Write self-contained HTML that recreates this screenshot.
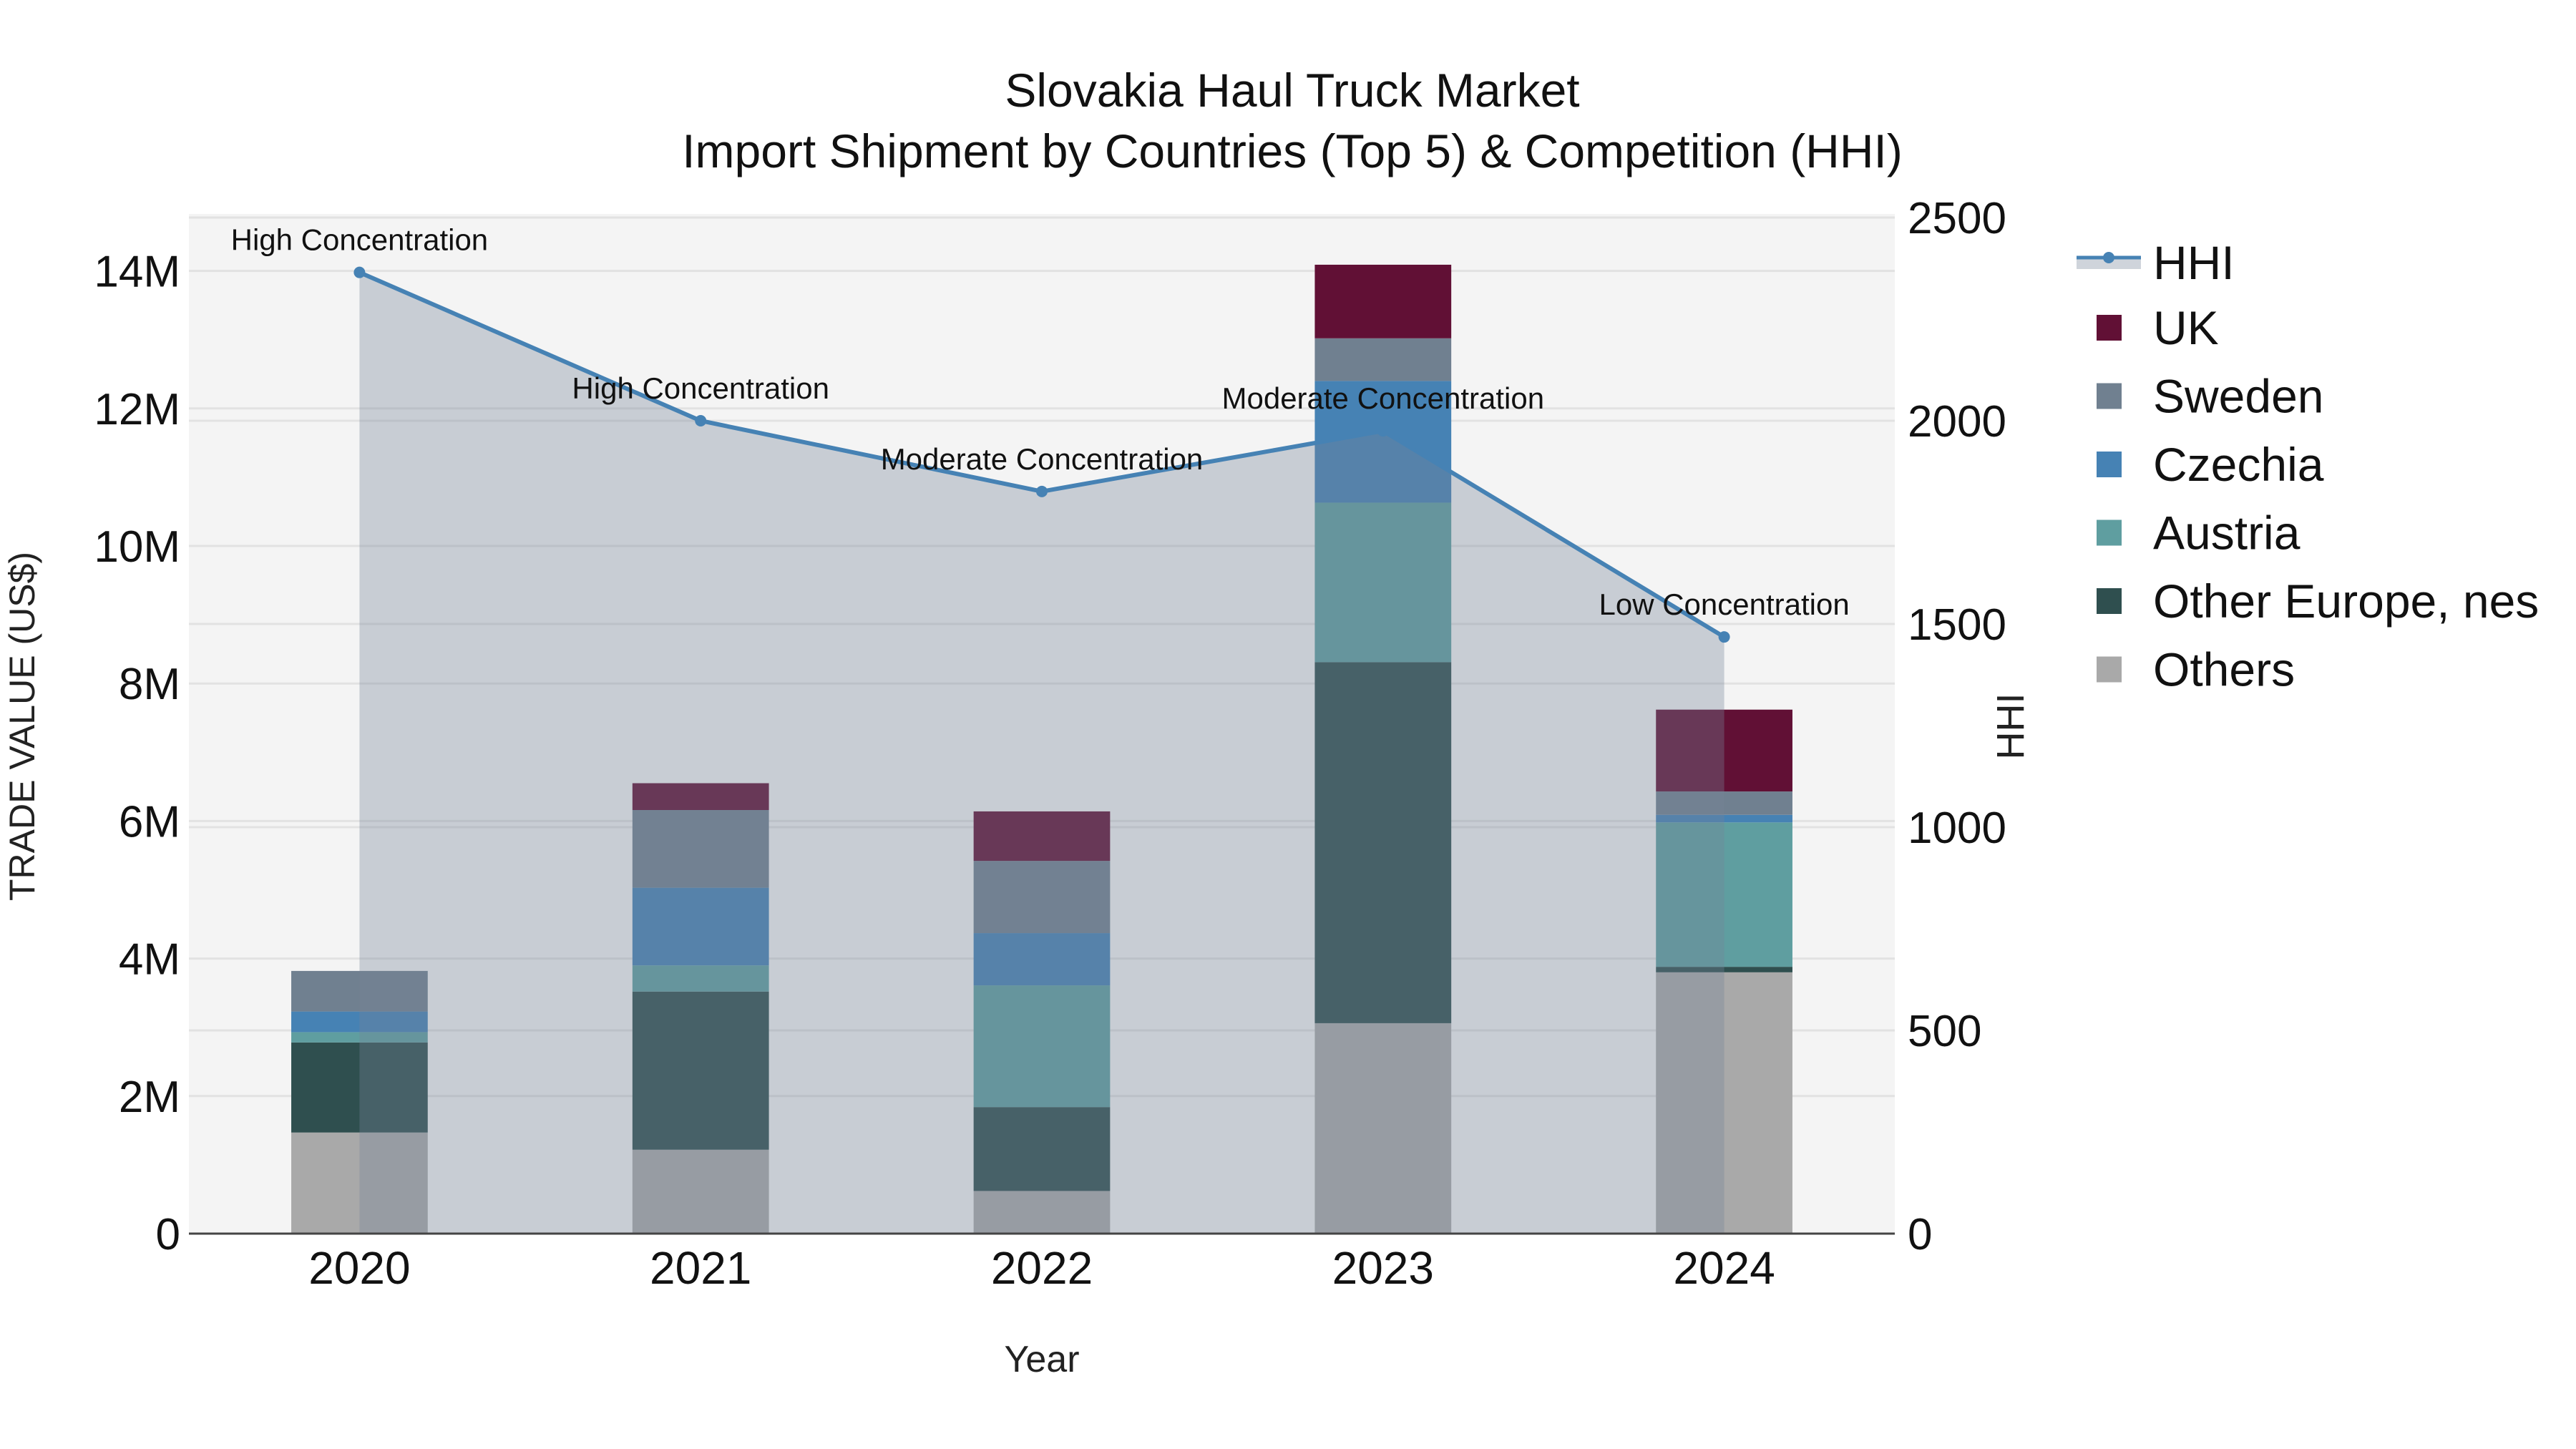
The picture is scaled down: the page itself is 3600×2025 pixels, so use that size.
<!DOCTYPE html>
<html><head><meta charset="utf-8"><style>
html,body{margin:0;padding:0;background:#fff;}
svg{display:block;font-family:"Liberation Sans",sans-serif;}
</style></head><body>
<svg id="chart" width="3600" height="2025" viewBox="0 0 3600 2025">
<text x="1806" y="149" font-size="66" text-anchor="middle" fill="#111">Slovakia Haul Truck Market</text>
<text x="1806" y="234" font-size="66" text-anchor="middle" fill="#111">Import Shipment by Countries (Top 5) &amp; Competition (HHI)</text>
<rect x="264" y="299" width="2384" height="1425" fill="#f4f4f4"/>
<g id="grid"></g>
<g id="bars"></g>
<g id="hhi"></g>
<line x1="264" y1="1724" x2="2648" y2="1724" stroke="#444" stroke-width="3"/>
<g id="axes"></g>
<text x="1456" y="1917" font-size="52" text-anchor="middle" fill="#222">Year</text>
<text transform="translate(48,1015) rotate(-90)" font-size="50" text-anchor="middle" fill="#222">TRADE VALUE (US$)</text>
<text transform="translate(2828,1015) rotate(-90)" font-size="54" text-anchor="middle" fill="#222">HHI</text>
<g id="legend"></g>
</svg>
<script>
const years = ["2020","2021","2022","2023","2024"];
const seriesNames = ["Others","Other Europe, nes","Austria","Czechia","Sweden","UK"];
const seriesColors = ["#a9a9a9","#2f4f4f","#5f9ea0","#4682b4","#708090","#611035"];
const others = [1.47,1.22,0.62,3.06,3.80];
const otherEurope = [1.31,2.30,1.22,5.25,0.08];
const austria = [0.15,0.38,1.77,2.32,2.10];
const czechia = [0.30,1.13,0.76,1.77,0.11];
const sweden = [0.59,1.13,1.05,0.62,0.34];
const uk = [0.00,0.39,0.72,1.07,1.19];
const hhiValues = [2365,2000,1826,1975,1468];
const hhiLabels = ["High Concentration","High Concentration","Moderate Concentration","Moderate Concentration","Low Concentration"];
const leftTicks = [0,2,4,6,8,10,12,14];
const leftTickLabels = ["0","2M","4M","6M","8M","10M","12M","14M"];
const rightTicks = [0,500,1000,1500,2000,2500];

const NS="http://www.w3.org/2000/svg";
const X0=264,X1=2648,Y0=1724,YT=299;
const band=(X1-X0)/years.length;
function xs(i){return X0+band*(i+0.5);}
function yl(v){return Y0-v*96.1;}
function yr(v){return Y0-v*0.568;}
function mk(tag,attrs,parent){const e=document.createElementNS(NS,tag);for(const k in attrs)e.setAttribute(k,attrs[k]);parent.appendChild(e);return e;}
const grid=document.getElementById('grid'),bars=document.getElementById('bars'),hhi=document.getElementById('hhi'),axes=document.getElementById('axes'),legend=document.getElementById('legend');

leftTicks.forEach((t,i)=>{
  const y=yl(t);
  if(t>0){const g=mk('line',{x1:X0,x2:X1,y1:y,y2:y,stroke:'#e2e2e2','stroke-width':3},grid);
  
  }
  const tx=mk('text',{x:252,y:y+22,'font-size':62,'text-anchor':'end',fill:'#111'},axes);
  tx.textContent=leftTickLabels[i];
  
  
});
rightTicks.forEach(t=>{
  const y=yr(t);
  if(t>0){const g=mk('line',{x1:X0,x2:X1,y1:y,y2:y,stroke:'#e2e2e2','stroke-width':3},grid);
  
  }
  const tx=mk('text',{x:2666,y:y+22,'font-size':62,'text-anchor':'start',fill:'#111'},axes);
  tx.textContent=String(t);
  
  
});
years.forEach((yv,i)=>{
  const tx=mk('text',{x:xs(i),y:1794,'font-size':64,'text-anchor':'middle',fill:'#111'},axes);
  tx.textContent=yv;
  
  
});

const stacks=[others,otherEurope,austria,czechia,sweden,uk];
const bw=band*0.4;
years.forEach((yv,i)=>{
  let base=0;
  stacks.forEach((s,k)=>{
    const v=s[i]; if(v<=0)return;
    const r=mk('rect',{x:xs(i)-bw/2,y:yl(base+v),width:bw,height:yl(base)-yl(base+v),fill:seriesColors[k]},bars);
    
    
    base+=v;
  });
});

let pts=hhiValues.map((v,i)=>[xs(i),yr(v)]);
let d='M'+pts[0][0]+','+Y0+' '+pts.map(p=>'L'+p[0]+','+p[1]).join(' ')+' L'+pts[pts.length-1][0]+','+Y0+' Z';
const area=mk('path',{d:d,fill:'rgb(118,133,152)','fill-opacity':0.35},hhi);


const line=mk('polyline',{points:pts.map(p=>p.join(',')).join(' '),fill:'none',stroke:'#4682b4','stroke-width':6},hhi);


pts.forEach((p,i)=>{
  const c=mk('circle',{cx:p[0],cy:p[1],r:8,fill:'#4682b4'},hhi);
  
  
  const t=mk('text',{x:p[0],y:p[1]-31,'font-size':42,'text-anchor':'middle',fill:'#111'},hhi);
  t.textContent=hhiLabels[i];
  
  
});

// legend
const lg1=mk('rect',{x:2902,y:360,width:90,height:16,fill:'rgb(118,133,152)','fill-opacity':0.35},legend);


const lg2=mk('line',{x1:2902,x2:2992,y1:360,y2:360,stroke:'#4682b4','stroke-width':5},legend);


const lg3=mk('circle',{cx:2947,cy:360,r:8,fill:'#4682b4'},legend);


const lt=mk('text',{x:3009,y:390,'font-size':66,fill:'#111'},legend);
lt.textContent='HHI';


const order=[5,4,3,2,1,0];
order.forEach((k,j)=>{
  const cy=440+18+j*95.5;
  const sq=mk('rect',{x:2930,y:cy-18,width:35,height:36,fill:seriesColors[k]},legend);
  
  
  const t=mk('text',{x:3009,y:cy+23,'font-size':66,fill:'#111'},legend);
  t.textContent=seriesNames[k];
  
  
});
</script>
</body></html>
